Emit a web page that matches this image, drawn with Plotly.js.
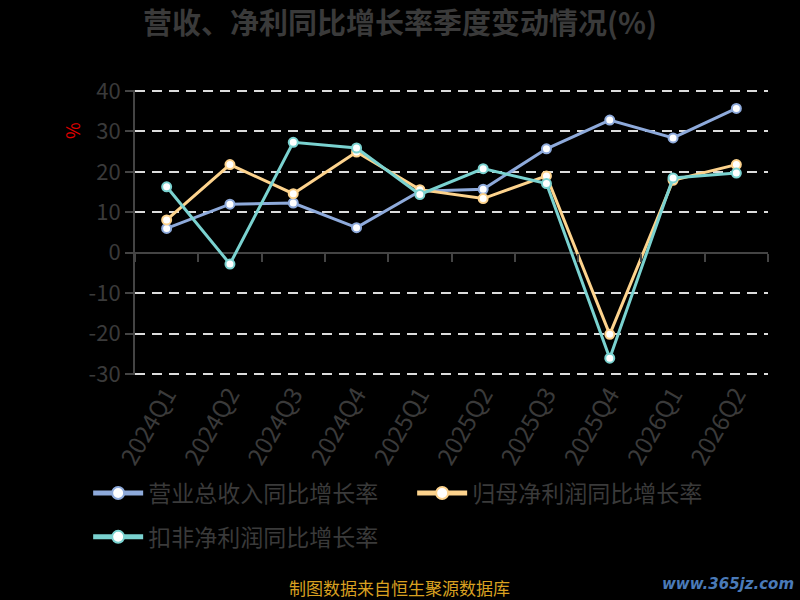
<!DOCTYPE html>
<html>
<head>
<meta charset="utf-8">
<script src="https://cdn.plot.ly/plotly-3.0.1.min.js"></script>
<style>
  body { margin: 0; background: #000; }
  #chart { width: 800px; height: 600px; }
</style>
</head>
<body>
<div id="chart"></div>
<script>
var quarters = ['2024Q1', '2024Q2', '2024Q3', '2024Q4', '2025Q1', '2025Q2', '2025Q3', '2025Q4', '2026Q1', '2026Q2'];
var revenueGrowth = [6.0, 12.0, 12.3, 6.2, 15.2, 15.7, 25.7, 32.8, 28.4, 35.7];
var netProfitGrowth = [8.1, 21.8, 14.6, 24.9, 15.6, 13.4, 19.0, -20.2, 17.9, 21.8];
var deductedGrowth = [16.3, -2.8, 27.3, 25.9, 14.4, 20.8, 17.1, -26.1, 18.5, 19.7];
var yTicks = [-30, -20, -10, 0, 10, 20, 30, 40];
var yTickText = yTicks.map(function(v) { return String(v); });

var font = '"Noto Sans CJK SC", "Noto Sans", sans-serif';

function makeTrace(name, values, color, legendId) {
  return {
    x: quarters,
    y: values,
    name: name,
    legend: legendId,
    type: 'scatter',
    mode: 'lines+markers',
    line: { color: color, width: 3 },
    marker: { color: '#fff', size: 9, line: { color: color, width: 2 } },
    hoverinfo: 'x+y+name'
  };
}

var traces = [
  makeTrace('营业总收入同比增长率', revenueGrowth, '#8eaadb', 'legend'),
  makeTrace('归母净利润同比增长率', netProfitGrowth, '#fdd38d', 'legend'),
  makeTrace('扣非净利润同比增长率', deductedGrowth, '#7ad2d0', 'legend2')
];

// invisible trace on the second x axis so the ticks on the zero line get drawn
traces.push({
  x: quarters, y: revenueGrowth, xaxis: 'x2', type: 'scatter', mode: 'none',
  showlegend: false, hoverinfo: 'skip'
});

var legendBase = {
  orientation: 'h',
  xanchor: 'left',
  yanchor: 'middle',
  font: { size: 23, color: '#3a3a3a', family: font },
  entrywidth: 259,
  itemwidth: 50,
  itemsizing: 'constant',
  bgcolor: 'rgba(0,0,0,0)'
};

var layout = {
  width: 800,
  height: 600,
  paper_bgcolor: '#000',
  plot_bgcolor: '#000',
  margin: { l: 135, r: 32, t: 90, b: 225 },
  font: { family: font, color: '#3a3a3a' },
  title: {
    text: '<b>营收、净利同比增长率季度变动情况(%)</b>',
    x: 0.5, xanchor: 'center', y: 0.96, yanchor: 'middle',
    font: { size: 29, color: '#3a3a3a', family: font }
  },
  xaxis: {
    type: 'category',
    range: [-0.5, 9.5],
    showgrid: false,
    showline: false,
    zeroline: false,
    ticks: '',
    tickangle: -60,
    tickfont: { size: 24, color: '#3a3a3a' },
    fixedrange: true
  },
  xaxis2: {
    type: 'category',
    range: [-0.5, 9.5],
    overlaying: 'x',
    anchor: 'free',
    position: 30.25 / 70.5,
    side: 'bottom',
    showgrid: false,
    zeroline: false,
    showline: false,
    ticks: 'outside',
    tickson: 'boundaries',
    ticklen: 8,
    tickwidth: 2,
    tickcolor: '#444',
    showticklabels: false,
    fixedrange: true
  },
  yaxis: {
    range: [-30.25, 40.25],
    tickvals: yTicks,
    ticktext: yTickText,
    showgrid: true,
    gridcolor: '#dcdcdc',
    griddash: '10px,7px',
    gridwidth: 2,
    zeroline: true,
    zerolinecolor: '#444',
    zerolinewidth: 2,
    showline: true,
    linecolor: '#444',
    linewidth: 2,
    ticks: 'outside',
    ticklen: 8,
    tickwidth: 2,
    tickcolor: '#444',
    tickfont: { size: 22, color: '#3a3a3a' },
    fixedrange: true
  },
  legend: Object.assign({}, legendBase, { x: -0.074, y: -0.414 }),
  legend2: Object.assign({}, legendBase, { x: -0.074, y: -0.568 }),
  annotations: [
    {
      text: '%', textangle: -90, xref: 'paper', yref: 'paper',
      x: -0.0995, xanchor: 'center', y: 0.856, yanchor: 'middle', showarrow: false,
      font: { size: 18, color: '#e00000' }
    },
    {
      text: '制图数据来自恒生聚源数据库', xref: 'paper', yref: 'paper',
      x: 0.4186, xanchor: 'center', y: -0.747, yanchor: 'middle', showarrow: false,
      font: { size: 17, color: '#d9a020' }
    },
    {
      text: '<b><i>www.365jz.com</i></b>', xref: 'paper', yref: 'paper',
      x: 1.045, xanchor: 'right', y: -0.735, yanchor: 'middle', showarrow: false,
      font: { size: 15, color: '#4a7ab8', family: 'DejaVu Sans' }
    }
  ]
};

Plotly.newPlot('chart', traces, layout, { displayModeBar: false, staticPlot: true });
</script>
</body>
</html>
